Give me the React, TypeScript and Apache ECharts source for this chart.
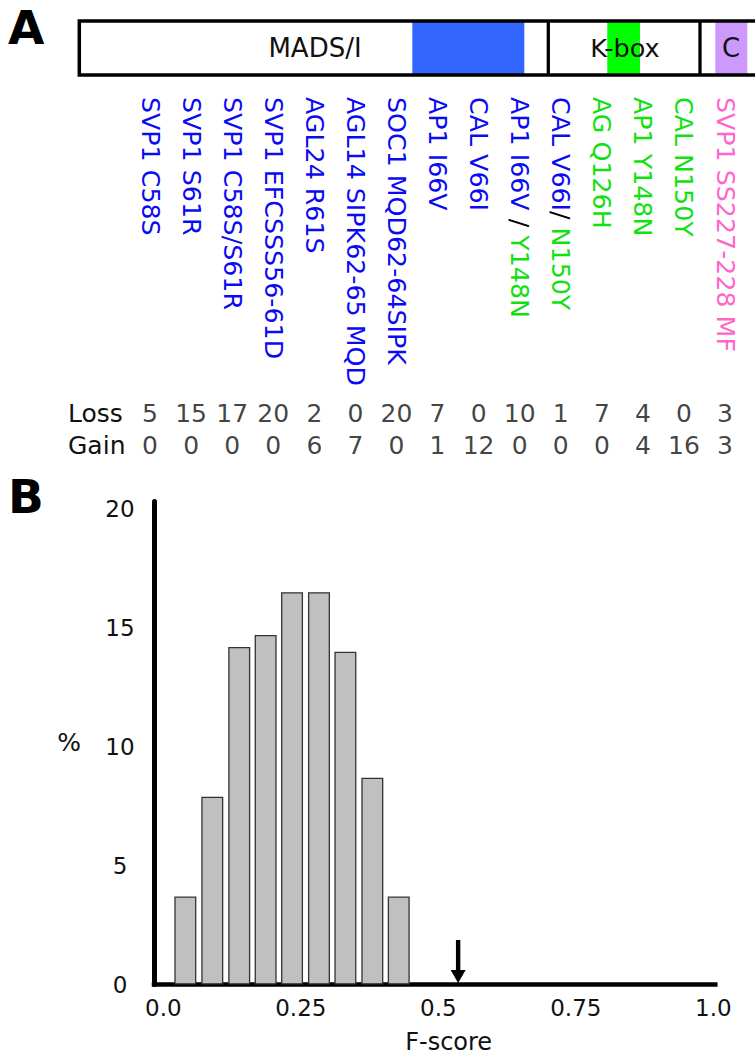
import React, { useEffect, useRef } from "react";
import * as echarts from "echarts";

// ---------- Data ----------
// Panel A: mutations (text segments with colour keys: b = MADS/I (blue), g = K-box (green), p = C (pink), k = black)
const mutationLabels: [string, string][][] = [
  [["SVP1 C58S", "b"]],
  [["SVP1 S61R", "b"]],
  [["SVP1 C58S/S61R", "b"]],
  [["SVP1 EFCSSS56-61D", "b"]],
  [["AGL24 R61S", "b"]],
  [["AGL14 SIPK62-65 MQD", "b"]],
  [["SOC1 MQD62-64SIPK", "b"]],
  [["AP1 I66V", "b"]],
  [["CAL V66I", "b"]],
  [["AP1 I66V ", "b"], ["/", "k"], [" Y148N", "g"]],
  [["CAL V66I", "b"], ["/", "k"], [" N150Y", "g"]],
  [["AG Q126H", "g"]],
  [["AP1 Y148N", "g"]],
  [["CAL N150Y", "g"]],
  [["SVP1 SS227-228 MF", "p"]],
];
const rowNames = ["Loss", "Gain"];
const lossValues = [5, 15, 17, 20, 2, 0, 20, 7, 0, 10, 1, 7, 4, 0, 3];
const gainValues = [0, 0, 0, 0, 6, 7, 0, 1, 12, 0, 0, 0, 4, 16, 3];

// Panel B: histogram of F-scores
const binCenters = [0.04, 0.089, 0.138, 0.186, 0.234, 0.283, 0.331, 0.38, 0.428];
const percentages = [3.7, 7.9, 14.2, 14.7, 16.5, 16.5, 14.0, 8.7, 3.7];
const observedF = 0.536;
const xTickValues = [0, 0.25, 0.5, 0.75, 1];
const xTickLabels = ["0.0", "0.25", "0.5", "0.75", "1.0"];
const yTickValues = [0, 5, 10, 15, 20];

const FONT = "DejaVu Sans";

export default function App() {
  const ref = useRef<HTMLDivElement>(null);

  useEffect(() => {
    if (!ref.current) return;
    const chart = echarts.init(ref.current, undefined, { renderer: "svg" });

    const labelFont = 25.3;
    const rich = {
      b: { color: "#0a0af5", fontSize: labelFont, fontFamily: FONT },
      g: { color: "#11e011", fontSize: labelFont, fontFamily: FONT },
      p: { color: "#ff66cc", fontSize: labelFont, fontFamily: FONT },
      k: { color: "#000000", fontSize: labelFont, fontFamily: FONT },
    };

    const tableSeries = (vals: number[], row: number) => ({
      type: "scatter",
      xAxisIndex: 1,
      yAxisIndex: 1,
      silent: true,
      symbolSize: 0,
      data: vals.map((v, i) => [i, row, v]),
      label: {
        show: true,
        position: "inside",
        formatter: (p: any) => String(p.value[2]),
        fontSize: 25,
        fontFamily: FONT,
        color: "#111",
      },
    });

    const option: any = {
      animation: false,
      backgroundColor: "#ffffff",
      textStyle: { fontFamily: FONT },
      grid: [
        { left: 129.5, right: 9.4, top: 40, height: 49 },
        { left: 129.5, right: 9.4, top: 397, height: 64 },
        { left: 154, right: 39.7, top: 501.4, bottom: 71.5 },
      ],
      xAxis: [
        {
          gridIndex: 0,
          type: "category",
          data: mutationLabels.map((_, i) => String(i)),
          axisLine: { show: false },
          axisTick: { show: false },
          axisLabel: {
            interval: 0,
            rotate: -90,
            margin: 8,
            formatter: (_v: string, idx: number) =>
              mutationLabels[idx].map(([t, c]) => `{${c}|${t}}`).join(""),
            rich,
          },
        },
        {
          gridIndex: 1,
          type: "category",
          data: mutationLabels.map((_, i) => String(i)),
          show: false,
        },
        {
          gridIndex: 2,
          type: "value",
          min: -0.017,
          max: 1.0036,
          splitLine: { show: false },
          axisTick: { show: false },
          axisLine: { show: true, onZero: false, lineStyle: { color: "#000", width: 4.5, cap: "square" } },
          axisLabel: {
            customValues: xTickValues,
            formatter: (v: number) => {
              const i = xTickValues.findIndex((t) => Math.abs(t - v) < 1e-9);
              return i >= 0 ? xTickLabels[i] : "";
            },
            fontSize: 23,
            fontFamily: FONT,
            color: "#111",
            margin: 12,
          },
          name: "F-score",
          nameLocation: "middle",
          nameGap: 45,
          nameTextStyle: { fontSize: 24, fontFamily: FONT, color: "#111", padding: [0, 0, 0, 28] },
        },
      ],
      yAxis: [
        { gridIndex: 0, type: "value", show: false },
        {
          gridIndex: 1,
          type: "category",
          data: rowNames,
          inverse: true,
          axisLine: { show: false },
          axisTick: { show: false },
          axisLabel: {
            interval: 0,
            align: "left",
            margin: 61.5,
            fontSize: 25,
            fontFamily: FONT,
            color: "#111",
          },
        },
        {
          gridIndex: 2,
          type: "value",
          min: 0,
          max: 20.32,
          splitLine: { show: false },
          axisTick: { show: false },
          axisLine: { show: true, onZero: false, lineStyle: { color: "#000", width: 5 } },
          axisLabel: {
            customValues: yTickValues,
            align: "center",
            margin: 34,
            fontSize: 23,
            fontFamily: FONT,
            color: "#111",
          },
          name: "%",
          nameLocation: "middle",
          nameRotate: 0,
          nameGap: 73,
          nameTextStyle: { fontSize: 25, fontFamily: FONT, color: "#111" },
        },
      ],
      series: [
        tableSeries(lossValues, 0),
        tableSeries(gainValues, 1),
        {
          type: "bar",
          xAxisIndex: 2,
          yAxisIndex: 2,
          barWidth: 22,
          data: binCenters.map((x, i) => [x, percentages[i]]),
          itemStyle: { color: "#c0c0c0", borderColor: "#333", borderWidth: 1.3 },
        },
        {
          type: "scatter",
          xAxisIndex: 2,
          yAxisIndex: 2,
          silent: true,
          data: [[observedF, 0]],
          symbol: "path://M5.3,0 L9.7,0 L9.7,30 L15,30 L7.5,43 L0,30 L5.3,30 Z",
          symbolSize: [15, 43],
          symbolOffset: [0, -23],
          itemStyle: { color: "#000", opacity: 1 },
          z: 10,
        },
      ],
      graphic: [
        { type: "text", left: 8, top: 4, style: { text: "A", fontSize: 47, fontWeight: "bold", fontFamily: FONT, fill: "#000" } },
        { type: "text", left: 8, top: 473, style: { text: "B", fontSize: 47, fontWeight: "bold", fontFamily: FONT, fill: "#000" } },
        // protein schematic
        { type: "rect", shape: { x: 79.3, y: 21, width: 690, height: 54 }, style: { fill: "#fff" } },
        { type: "rect", shape: { x: 412.3, y: 21, width: 112, height: 54 }, style: { fill: "#3366ff" } },
        { type: "rect", shape: { x: 607.3, y: 21, width: 32.7, height: 54 }, style: { fill: "#00ff00" } },
        { type: "rect", shape: { x: 715.3, y: 21, width: 32, height: 54 }, style: { fill: "#cc99ff" } },
        { type: "rect", shape: { x: 79.3, y: 21, width: 690, height: 54 }, style: { fill: "none", stroke: "#000", lineWidth: 3.5 } },
        { type: "line", shape: { x1: 548.3, y1: 21, x2: 548.3, y2: 75 }, style: { stroke: "#000", lineWidth: 3.3 } },
        { type: "line", shape: { x1: 700, y1: 21, x2: 700, y2: 75 }, style: { stroke: "#000", lineWidth: 3.3 } },
        { type: "text", x: 315, y: 48, style: { text: "MADS/I", fontSize: 26, fontFamily: FONT, fill: "#111", align: "center", verticalAlign: "middle" } },
        { type: "text", x: 625, y: 48, style: { text: "K-box", fontSize: 25.5, fontFamily: FONT, fill: "#111", align: "center", verticalAlign: "middle" } },
        { type: "text", x: 731, y: 48, style: { text: "C", fontSize: 26, fontFamily: FONT, fill: "#111", align: "center", verticalAlign: "middle" } },
      ],
    };

    chart.setOption(option);
    return () => chart.dispose();
  }, []);

  return (
    <div
      ref={ref}
      style={{ position: "absolute", left: 0, top: 0, width: 755, height: 1056, background: "#fff" }}
    />
  );
}
